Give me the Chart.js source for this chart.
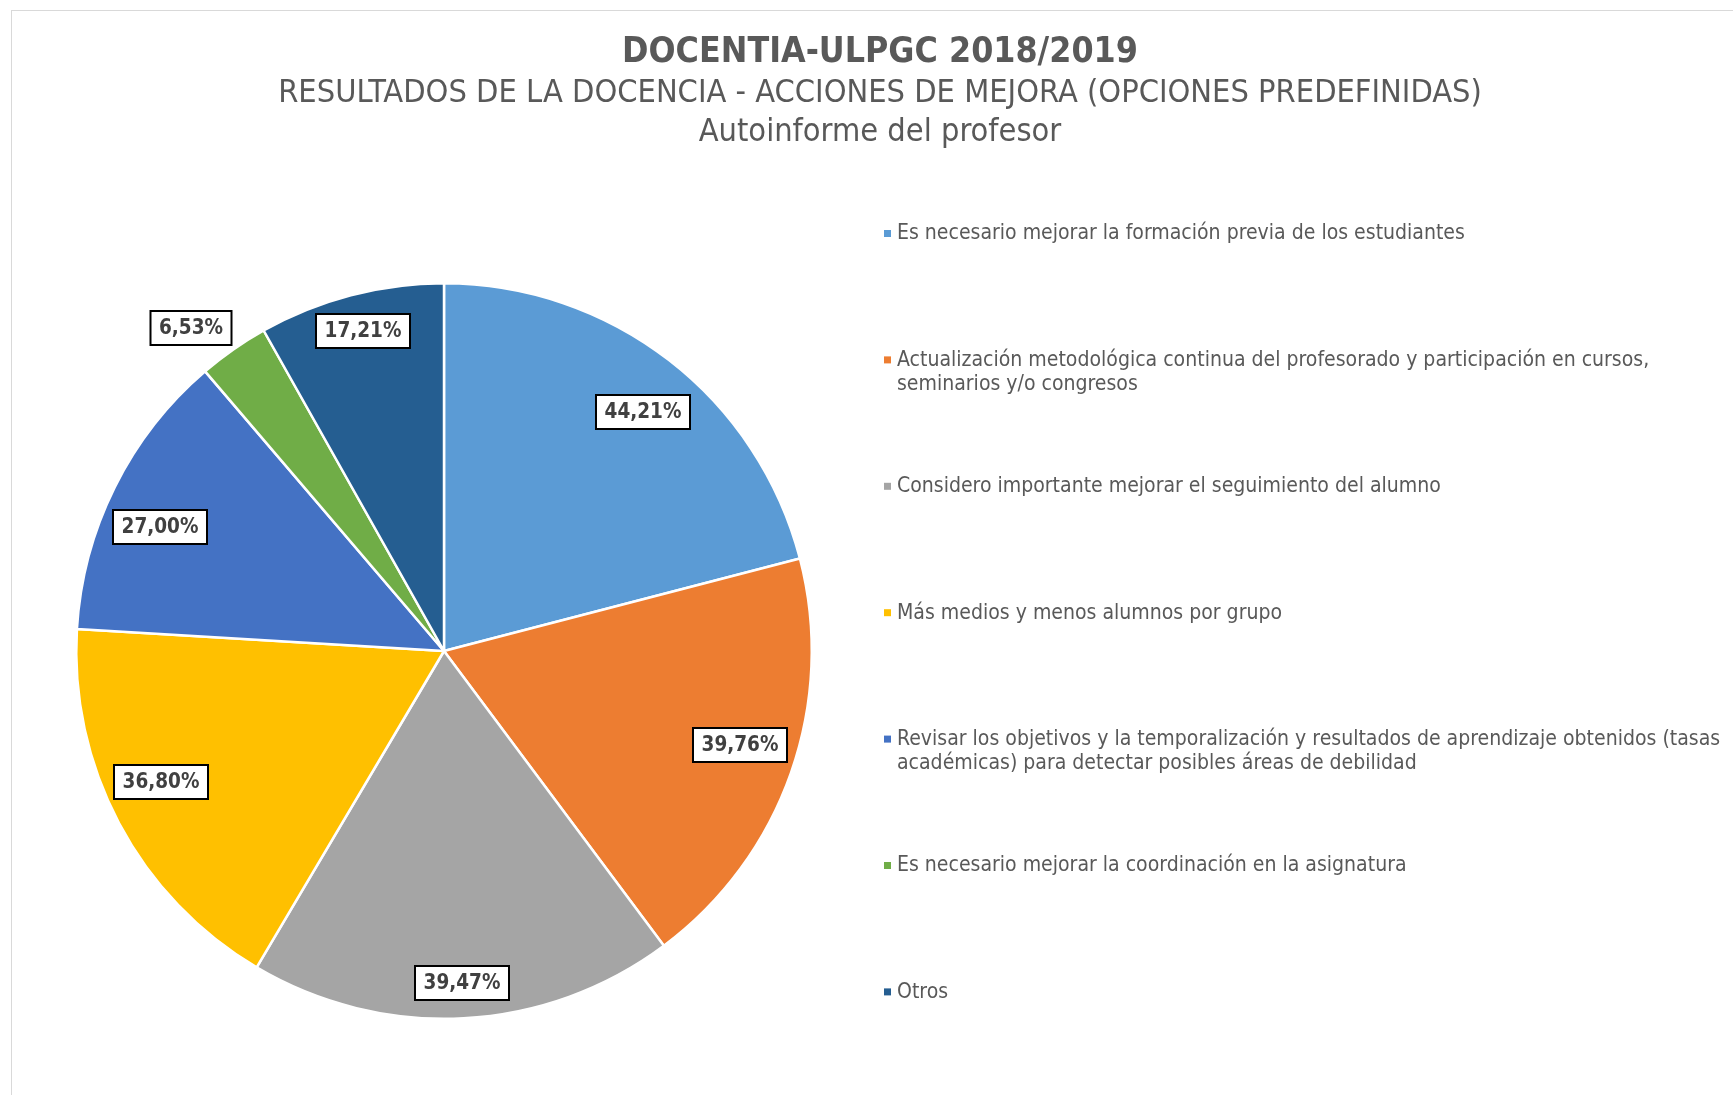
<!DOCTYPE html>
<html>
<head>
<meta charset="utf-8">
<script src="https://cdn.jsdelivr.net/npm/chart.js@4.4.0/dist/chart.umd.min.js"></script>
<style>
  body { margin: 0; background: #fff; }
  #wrap { position: relative; width: 1733px; height: 1095px; overflow: hidden; }
  #frame { position: absolute; left: 11px; top: 10px; right: -5px; bottom: -5px;
           border-top: 1px solid #d9d9d9; border-left: 1px solid #d9d9d9; }
  #myChart { position: absolute; left: 0; top: 0; }
</style>
</head>
<body>
<div id="wrap">
  <div id="frame"></div>
  <canvas id="myChart" width="1733" height="1095"></canvas>
</div>
<script>

var categories = [
  'Es necesario mejorar la formación previa de los estudiantes',
  'Actualización metodológica continua del profesorado y participación en cursos, seminarios y/o congresos',
  'Considero importante mejorar el seguimiento del alumno',
  'Más medios y menos alumnos por grupo',
  'Revisar los objetivos y la temporalización y resultados de aprendizaje obtenidos (tasas académicas) para detectar posibles áreas de debilidad',
  'Es necesario mejorar la coordinación en la asignatura',
  'Otros'
];
var values = [44.21, 39.76, 39.47, 36.80, 27.00, 6.53, 17.21];
var colors = ['#5B9BD5', '#ED7D31', '#A5A5A5', '#FFC000', '#4472C4', '#70AD47', '#255E91'];

var titleText = 'DOCENTIA-ULPGC 2018/2019';
var subtitleLines = ['RESULTADOS DE LA DOCENCIA - ACCIONES DE MEJORA (OPCIONES PREDEFINIDAS)', 'Autoinforme del profesor'];

// where each % box sits (excel "best fit"): fraction of radius + small angle nudge in degrees
var labelRadius = [0.846, 0.844, 0.904, 0.848, 0.843, 1.115, 0.897];
var labelNudge = [2.1, -1.7, 0, 3.2, -2.8, -3.1, 0.4];

var FONT = '"DejaVu Sans Condensed", "Liberation Sans Narrow", "DejaVu Sans", sans-serif';
var GREY = '#595959';

function fitSize(ctx, text, weight, target) {
  ctx.font = weight + ' 100px ' + FONT;
  return 100 * target / ctx.measureText(text).width;
}

function wrapText(ctx, text, maxW) {
  var words = text.split(' '), lines = [], cur = '';
  words.forEach(function(w) {
    var t = cur ? cur + ' ' + w : w;
    if (cur && ctx.measureText(t).width > maxW) {
      lines.push(cur);
      cur = w;
    } else {
      cur = t;
    }
  });
  if (cur) lines.push(cur);
  return lines;
}

var titlePlugin = {
  id: 'titles',
  afterDraw: function(chart) {
    var ctx = chart.ctx;
    ctx.save();
    ctx.fillStyle = GREY;
    ctx.textAlign = 'center';
    ctx.textBaseline = 'alphabetic';
    var s = fitSize(ctx, titleText, 'bold', 516);
    ctx.font = 'bold ' + s + 'px ' + FONT;
    ctx.fillText(titleText, 880, 62);
    s = fitSize(ctx, subtitleLines[0], 'normal', 1204);
    ctx.font = s + 'px ' + FONT;
    ctx.fillText(subtitleLines[0], 880, 102);
    ctx.fillText(subtitleLines[1], 880, 141);
    ctx.restore();
  }
};

var legendPlugin = {
  id: 'sideLegend',
  afterDraw: function(chart) {
    var ctx = chart.ctx;
    var ds = chart.data.datasets[0];
    ctx.save();
    var s = fitSize(ctx, chart.data.labels[0], 'normal', 568);
    ctx.font = s + 'px ' + FONT;
    ctx.textAlign = 'left';
    ctx.textBaseline = 'middle';
    chart.data.labels.forEach(function(lab, i) {
      var y = 233 + i * 126.4;
      ctx.fillStyle = ds.backgroundColor[i];
      ctx.fillRect(884, y - 3, 7, 7);
      ctx.fillStyle = GREY;
      wrapText(ctx, lab, 830).forEach(function(line, j) {
        ctx.fillText(line, 897, y + 1 + j * 24.3);
      });
    });
    ctx.restore();
  }
};

var labelPlugin = {
  id: 'pctLabels',
  afterDatasetsDraw: function(chart) {
    var ctx = chart.ctx;
    var meta = chart.getDatasetMeta(0);
    ctx.save();
    var s = fitSize(ctx, '44,21%', 'bold', 77);
    ctx.font = 'bold ' + s + 'px ' + FONT;
    ctx.textAlign = 'center';
    ctx.textBaseline = 'middle';
    meta.data.forEach(function(arc, i) {
      var p = arc.getProps(['x', 'y', 'startAngle', 'endAngle', 'outerRadius']);
      var mid = (p.startAngle + p.endAngle) / 2 + labelNudge[i] * Math.PI / 180;
      var r = p.outerRadius * labelRadius[i];
      var x = Math.round(p.x + Math.cos(mid) * r);
      var y = Math.round(p.y + Math.sin(mid) * r);
      var txt = values[i].toFixed(2).replace('.', ',') + '%';
      var w = Math.round(ctx.measureText(txt).width + 17), h = 34;
      ctx.fillStyle = '#fff';
      ctx.fillRect(x - w / 2, y - h / 2, w, h);
      ctx.lineWidth = 2;
      ctx.strokeStyle = '#000';
      ctx.strokeRect(x - w / 2, y - h / 2, w, h);
      ctx.fillStyle = '#404040';
      ctx.fillText(txt, x, y + 1);
    });
    ctx.restore();
  }
};

var ctx = document.getElementById('myChart').getContext('2d');
var myChart = new Chart(ctx, {
  type: 'pie',
  data: {
    labels: categories,
    datasets: [{
      data: values,
      backgroundColor: colors,
      borderColor: '#ffffff',
      borderWidth: 2.5
    }]
  },
  options: {
    responsive: false,
    animation: false,
    layout: {
      padding: { left: 75, right: 920, top: 282, bottom: 75 }
    },
    plugins: {
      legend: { display: false },
      title: { display: false },
      tooltip: { enabled: false }
    }
  },
  plugins: [titlePlugin, labelPlugin, legendPlugin]
});
</script>
</body>
</html>
